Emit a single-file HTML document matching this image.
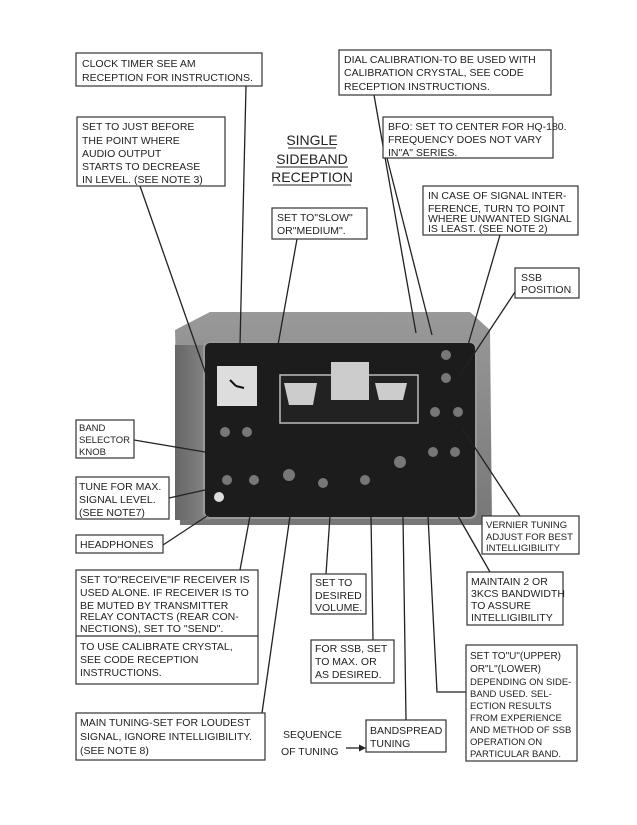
<!DOCTYPE html>
<html><head><meta charset="utf-8"><style>
body{margin:0;background:#fff;}
svg{display:block}
text{font-family:"Liberation Sans",sans-serif;font-size:10.5px;fill:#222;}
.b{fill:#fff;stroke:#333;stroke-width:1.2}
.l{stroke:#222;stroke-width:1.3;fill:none}
</style></head><body>
<svg width="637" height="825" viewBox="0 0 637 825">
<defs>
<linearGradient id="top" x1="0" y1="0" x2="0" y2="1"><stop offset="0" stop-color="#999"/><stop offset="1" stop-color="#777"/></linearGradient>
<linearGradient id="side" x1="0" y1="0" x2="1" y2="0"><stop offset="0" stop-color="#666"/><stop offset="1" stop-color="#888"/></linearGradient>
</defs>
<!-- radio -->
<path d="M175 330 L210 312 L470 312 L490 330 L492 525 L180 525 Z" fill="url(#top)"/>
<rect x="175" y="345" width="35" height="175" fill="url(#side)"/>
<rect x="204" y="342" width="272" height="176" rx="6" fill="#1c1c1c" stroke="#999" stroke-width="2"/>
<rect x="217" y="366" width="40" height="40" fill="#ddd"/>
<path d="M236 386 l-6 -6 M236 386 l8 2" stroke="#111" stroke-width="2"/>
<rect x="280" y="375" width="138" height="48" fill="#222" stroke="#bbb" stroke-width="1.5"/>
<path d="M284 383 h33 l-4 22 h-24 z" fill="#ccc"/>
<rect x="331" y="362" width="38" height="38" fill="#ccc"/>
<path d="M375 383 h32 l-4 17 h-24 z" fill="#ccc"/>
<g fill="#777">
<circle cx="225" cy="432" r="5"/><circle cx="247" cy="432" r="5"/>
<circle cx="227" cy="480" r="5"/><circle cx="254" cy="480" r="5"/><circle cx="289" cy="475" r="6"/>
<circle cx="323" cy="483" r="5"/><circle cx="365" cy="480" r="5"/><circle cx="400" cy="462" r="6"/>
<circle cx="433" cy="452" r="5"/><circle cx="455" cy="452" r="5"/>
<circle cx="446" cy="355" r="5"/><circle cx="446" cy="378" r="5"/><circle cx="435" cy="412" r="5"/><circle cx="458" cy="412" r="5"/>
</g>
<circle cx="219" cy="497" r="5" fill="#ddd"/>
<!-- leader lines -->
<g class="l">
<line x1="246" y1="86" x2="240" y2="345"/>
<line x1="140" y1="186" x2="208" y2="380"/>
<line x1="297" y1="239" x2="278" y2="345"/>
<line x1="374" y1="95" x2="416" y2="333"/>
<line x1="387" y1="158" x2="432" y2="335"/>
<line x1="500" y1="235" x2="468" y2="345"/>
<line x1="515" y1="292" x2="458" y2="378"/>
<line x1="520" y1="516" x2="462" y2="428"/>
<line x1="134" y1="440" x2="205" y2="452"/>
<line x1="169" y1="498" x2="205" y2="490"/>
<line x1="163" y1="545" x2="207" y2="516"/>
<line x1="240" y1="570" x2="250" y2="516"/>
<line x1="326" y1="574" x2="330" y2="516"/>
<line x1="373" y1="640" x2="371" y2="516"/>
<line x1="262" y1="713" x2="290" y2="516"/>
<line x1="406" y1="720" x2="403" y2="516"/>
<polyline points="466,692 437,692 428,516"/>
<line x1="490" y1="572" x2="458" y2="516"/>
<line x1="346" y1="748" x2="362" y2="748"/>
</g>
<path d="M366 748 l-7 -3.5 v7 z" fill="#222"/>
<!-- boxes -->
<rect class="b" x="76" y="53" width="186" height="33"/>
<text x="82" y="67">CLOCK TIMER SEE AM</text><text x="82" y="81">RECEPTION FOR INSTRUCTIONS.</text>
<rect class="b" x="77" y="117" width="148" height="69"/>
<text x="82" y="130">SET TO JUST BEFORE</text><text x="82" y="144">THE POINT WHERE</text><text x="82" y="157">AUDIO OUTPUT</text><text x="82" y="170">STARTS TO DECREASE</text><text x="82" y="183">IN LEVEL. (SEE NOTE 3)</text>
<g text-anchor="middle">
<text x="312" y="145" style="font-size:14px">SINGLE</text><text x="312" y="164" style="font-size:14px">SIDEBAND</text><text x="312" y="182" style="font-size:14px">RECEPTION</text></g>
<g class="l" style="stroke-width:1"><line x1="288" y1="148" x2="336" y2="148"/><line x1="276" y1="167" x2="348" y2="167"/><line x1="273" y1="185" x2="351" y2="185"/></g>
<rect class="b" x="272" y="208" width="95" height="31"/>
<text x="277" y="221">SET TO"SLOW"</text><text x="277" y="234">OR"MEDIUM".</text>
<rect class="b" x="339" y="50" width="212" height="45"/>
<text x="344" y="63">DIAL CALIBRATION-TO BE USED WITH</text><text x="344" y="76">CALIBRATION CRYSTAL, SEE CODE</text><text x="344" y="90">RECEPTION INSTRUCTIONS.</text>
<rect class="b" x="383" y="117" width="170" height="41"/>
<text x="388" y="130">BFO: SET TO CENTER FOR HQ-180.</text><text x="388" y="143">FREQUENCY DOES NOT VARY</text><text x="388" y="156">IN"A" SERIES.</text>
<rect class="b" x="423" y="186" width="155" height="49"/>
<text x="428" y="199">IN CASE OF SIGNAL INTER-</text><text x="428" y="212">FERENCE, TURN TO POINT</text><text x="428" y="222">WHERE UNWANTED SIGNAL</text><text x="428" y="232">IS LEAST. (SEE NOTE 2)</text>
<rect class="b" x="515" y="268" width="64" height="30"/>
<text x="521" y="281">SSB</text><text x="521" y="293">POSITION</text>
<rect class="b" x="76" y="420" width="58" height="38"/>
<text x="79" y="431" style="font-size:9.5px">BAND</text><text x="79" y="443" style="font-size:9.5px">SELECTOR</text><text x="79" y="455" style="font-size:9.5px">KNOB</text>
<rect class="b" x="76" y="477" width="93" height="42"/>
<text x="79" y="490">TUNE FOR MAX.</text><text x="79" y="503">SIGNAL LEVEL.</text><text x="79" y="516">(SEE NOTE7)</text>
<rect class="b" x="76" y="535" width="87" height="18"/>
<text x="80" y="548">HEADPHONES</text>
<rect class="b" x="76" y="570" width="182" height="114"/>
<line x1="76" y1="636" x2="258" y2="636" stroke="#333" stroke-width="1.2"/>
<text x="80" y="583">SET TO"RECEIVE"IF RECEIVER IS</text><text x="80" y="596">USED ALONE. IF RECEIVER IS TO</text><text x="80" y="609">BE MUTED BY TRANSMITTER</text><text x="80" y="620">RELAY CONTACTS (REAR CON-</text><text x="80" y="632">NECTIONS), SET TO "SEND".</text>
<text x="80" y="650">TO USE CALIBRATE CRYSTAL,</text><text x="80" y="663">SEE CODE RECEPTION</text><text x="80" y="676">INSTRUCTIONS.</text>
<rect class="b" x="311" y="574" width="55" height="40"/>
<text x="315" y="586">SET TO</text><text x="315" y="599">DESIRED</text><text x="315" y="611">VOLUME.</text>
<rect class="b" x="311" y="640" width="83" height="43"/>
<text x="315" y="652">FOR SSB, SET</text><text x="315" y="665">TO MAX. OR</text><text x="315" y="678">AS DESIRED.</text>
<rect class="b" x="482" y="516" width="97" height="38"/>
<text x="486" y="528" style="font-size:9.5px">VERNIER TUNING</text><text x="486" y="540" style="font-size:9.5px">ADJUST FOR BEST</text><text x="486" y="551" style="font-size:9.5px">INTELLIGIBILITY</text>
<rect class="b" x="467" y="572" width="96" height="53"/>
<text x="471" y="585">MAINTAIN 2 OR</text><text x="471" y="597">3KCS BANDWIDTH</text><text x="471" y="609">TO ASSURE</text><text x="471" y="621">INTELLIGIBILITY</text>
<rect class="b" x="466" y="645" width="111" height="116"/>
<text x="470" y="659" style="font-size:10px">SET TO"U"(UPPER)</text><text x="470" y="672" style="font-size:10px">OR"L"(LOWER)</text><text x="470" y="685" style="font-size:9.5px">DEPENDING ON SIDE-</text><text x="470" y="697" style="font-size:9.5px">BAND USED. SEL-</text><text x="470" y="709" style="font-size:9.5px">ECTION RESULTS</text><text x="470" y="721" style="font-size:9.5px">FROM EXPERIENCE</text><text x="470" y="733" style="font-size:9.5px">AND METHOD OF SSB</text><text x="470" y="745" style="font-size:9.5px">OPERATION ON</text><text x="470" y="757" style="font-size:9.5px">PARTICULAR BAND.</text>
<rect class="b" x="76" y="713" width="189" height="47"/>
<text x="80" y="726">MAIN TUNING-SET FOR LOUDEST</text><text x="80" y="740">SIGNAL, IGNORE INTELLIGIBILITY.</text><text x="80" y="754">(SEE NOTE 8)</text>
<text x="283" y="738">SEQUENCE</text><text x="281" y="755">OF TUNING</text>
<rect class="b" x="366" y="720" width="80" height="32"/>
<text x="370" y="734">BANDSPREAD</text><text x="370" y="747">TUNING</text>
</svg>
</body></html>
